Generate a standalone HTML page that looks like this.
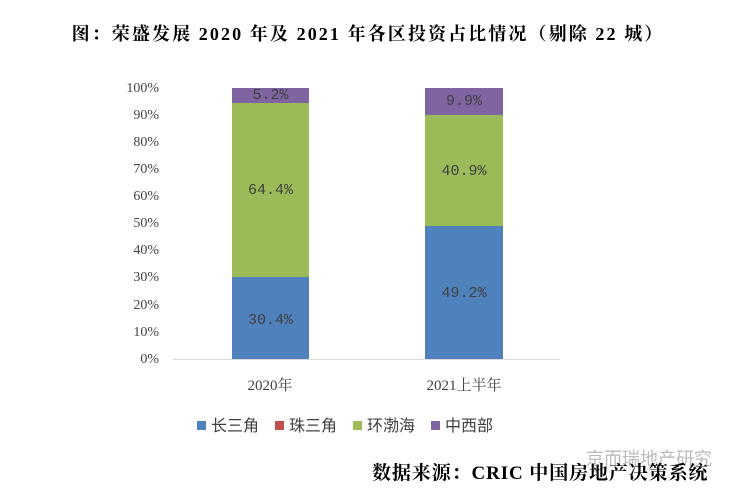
<!DOCTYPE html>
<html><head><meta charset="utf-8"><style>
body{margin:0;width:736px;height:490px;background:#fff;position:relative;overflow:hidden;font-family:"Liberation Serif","Noto Serif CJK SC",serif}
.a{position:absolute;white-space:nowrap}
.yl{position:absolute;right:577px;font-size:14px;color:#444;line-height:14px}
.bar{position:absolute}
.lb{position:absolute;font-family:"Liberation Mono","Noto Sans CJK SC",monospace;font-size:15px;color:#404040;text-align:center;line-height:15px}
.sw{display:inline-block;width:9px;height:9px;margin:0 5px 0 16px;vertical-align:1px}
</style></head><body>
<div class="a" style="left:0;width:736px;top:20px;text-align:center;font-weight:bold;font-size:18px;letter-spacing:2.1px">图：荣盛发展 2020 年及 2021 年各区投资占比情况（剔除 22 城）</div>
<div class="yl" style="top:353px">0%</div>
<div class="yl" style="top:326px">10%</div>
<div class="yl" style="top:299px">20%</div>
<div class="yl" style="top:271px">30%</div>
<div class="yl" style="top:244px">40%</div>
<div class="yl" style="top:217px">50%</div>
<div class="yl" style="top:190px">60%</div>
<div class="yl" style="top:163px">70%</div>
<div class="yl" style="top:136px">80%</div>
<div class="yl" style="top:109px">90%</div>
<div class="yl" style="top:82px">100%</div>
<div class="a" style="left:173px;top:359px;width:387px;height:1px;background:#d9d9d9"></div>
<div class="bar" style="left:232px;width:77px;top:277px;height:82px;background:#4F81BD"></div>
<div class="bar" style="left:232px;width:77px;top:103px;height:174px;background:#9BBB59"></div>
<div class="bar" style="left:232px;width:77px;top:88px;height:15px;background:#8064A2"></div>
<div class="bar" style="left:425px;width:78px;top:226px;height:133px;background:#4F81BD"></div>
<div class="bar" style="left:425px;width:78px;top:115px;height:111px;background:#9BBB59"></div>
<div class="bar" style="left:425px;width:78px;top:88px;height:27px;background:#8064A2"></div>
<div class="lb" style="left:232px;width:77px;top:313px">30.4%</div>
<div class="lb" style="left:232px;width:77px;top:183px">64.4%</div>
<div class="lb" style="left:232px;width:77px;top:88px">5.2%</div>
<div class="lb" style="left:425px;width:78px;top:286px">49.2%</div>
<div class="lb" style="left:425px;width:78px;top:164px">40.9%</div>
<div class="lb" style="left:425px;width:78px;top:94px">9.9%</div>
<div class="a" style="left:220px;width:100px;text-align:center;top:374px;font-size:15px;color:#404040">2020年</div>
<div class="a" style="left:414px;width:100px;text-align:center;top:374px;font-size:15px;color:#404040">2021上半年</div>
<div class="a" style="left:181px;top:412px;font-size:16px;color:#404040;font-family:'Liberation Sans','Noto Sans CJK SC',sans-serif">
<span class="sw" style="background:#4F81BD"></span>长三角<span class="sw" style="background:#C0504D"></span>珠三角<span class="sw" style="background:#9BBB59"></span>环渤海<span class="sw" style="background:#8064A2"></span>中西部</div>
<div class="a" style="left:586px;top:445px;font-size:18px;color:#bbb;font-family:'Noto Sans CJK SC',sans-serif">京而瑞地产研究</div>
<div class="a" style="left:372px;top:458px;font-size:19px;font-weight:bold;color:#000;letter-spacing:0.9px">数据来源：CRIC 中国房地产决策系统</div>
</body></html>
